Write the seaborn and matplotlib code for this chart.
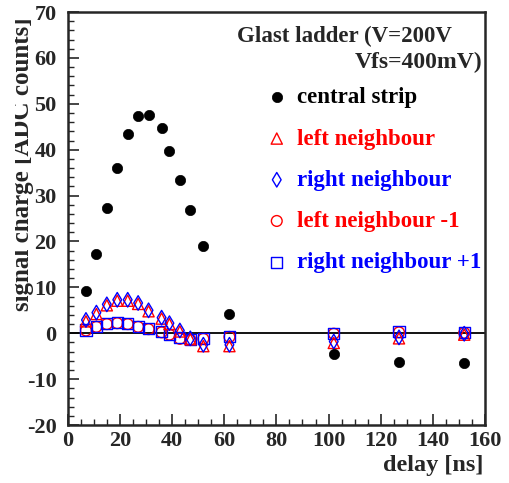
import matplotlib
matplotlib.use("Agg")
import matplotlib.pyplot as plt
import seaborn as sns
from matplotlib.ticker import MultipleLocator
from matplotlib.transforms import Bbox

delay = [7, 11, 15, 19, 23, 27, 31, 36, 39, 43, 47, 52, 62, 102, 127, 152]
central = [9.2, 17.2, 27.4, 36.0, 43.4, 47.3, 47.6, 44.8, 39.7, 33.5, 26.9, 19.1, 4.1, -4.6, -6.3, -6.5]
left_nb = [2.6, 4.2, 6.1, 7.1, 7.1, 6.4, 4.8, 3.2, 2.0, 0.4, -1.3, -2.8, -2.8, -2.1, -1.1, -0.3]
right_nb = [2.9, 4.5, 6.3, 7.3, 7.3, 6.6, 5.0, 3.4, 2.2, 0.6, -1.1, -2.5, -2.5, -1.8, -0.9, -0.1]
left_nb1 = [0.6, 1.4, 2.0, 2.2, 2.0, 1.4, 0.9, 0.2, -0.3, -1.2, -1.4, -1.2, -0.8, -0.1, 0.2, 0.1]
right_nb1 = [0.7, 1.5, 2.1, 2.3, 2.1, 1.5, 1.0, 0.3, -0.2, -1.0, -1.3, -1.1, -0.7, 0.0, 0.3, 0.1]

labels = ["central strip", "left neighbour", "right neighbour", "left neighbour -1", "right neighbour +1"]
colors = ["black", "red", "blue", "red", "blue"]

sns.set_style("ticks")
plt.rcParams["font.family"] = ["Liberation Serif", "DejaVu Serif"]
plt.rcParams["font.weight"] = "bold"
plt.rcParams["axes.unicode_minus"] = False

fig = plt.figure(figsize=(5.09, 4.83), dpi=100)
ax = fig.add_axes([0.133, 0.12, 0.820, 0.855])

ax.axhline(0, color="black", lw=1.3, zorder=1)

sns.scatterplot(x=delay, y=left_nb1, ax=ax, marker="o", s=60, facecolor="none",
                edgecolor="red", linewidth=1.0, label=labels[3], zorder=3)
sns.scatterplot(x=delay, y=right_nb1, ax=ax, marker="s", s=65, facecolor="none",
                edgecolor="blue", linewidth=1.0, label=labels[4], zorder=3)
sns.scatterplot(x=delay, y=left_nb, ax=ax, marker="^", s=65, facecolor="none",
                edgecolor="red", linewidth=1.0, label=labels[1], zorder=4)
sns.scatterplot(x=delay, y=right_nb, ax=ax, marker="d", s=55, facecolor="none",
                edgecolor="blue", linewidth=1.0, label=labels[2], zorder=4)
sns.scatterplot(x=delay, y=central, ax=ax, marker="o", s=55, color="black",
                edgecolor="black", linewidth=0.5, label=labels[0], zorder=5)

ax.set_xlim(0, 160)
ax.set_ylim(-20, 70)
ax.xaxis.set_major_locator(MultipleLocator(20))
ax.xaxis.set_minor_locator(MultipleLocator(5))
ax.yaxis.set_major_locator(MultipleLocator(10))
ax.yaxis.set_minor_locator(MultipleLocator(2))
ax.tick_params(which="both", direction="in", top=False, right=False)
ax.tick_params(which="major", length=8, width=1.2, labelsize=16)
ax.tick_params(axis="y", which="major", pad=8)
ax.tick_params(axis="x", which="major", pad=4)
ax.tick_params(which="minor", length=4, width=1.0)
for lab in ax.get_xticklabels() + ax.get_yticklabels():
    lab.set_fontweight("bold")
for sp in ax.spines.values():
    sp.set_linewidth(1.8)
    sp.set_visible(True)
ax.set_xlabel("")
ax.set_ylabel("")

handles, labs = ax.get_legend_handles_labels()
order = [labs.index(l) for l in labels]
leg = ax.legend([handles[i] for i in order], labels, loc="upper left",
                bbox_to_anchor=(0.446, 0.840), frameon=False,
                labelspacing=0.88, handletextpad=0.3, borderaxespad=0,
                handlelength=1.2, labelcolor=colors, prop={"weight": "bold", "size": 16.5})

fig.text(452 / 509, 1 - 36 / 483, "Glast ladder (V=200V", ha="right", va="center", fontsize=16.5, fontweight="bold")
fig.text(482 / 509, 1 - 62 / 483, "Vfs=400mV)", ha="right", va="center", fontsize=17, fontweight="bold")
fig.text(483 / 509, 1 - 466 / 483, "delay [ns]", ha="right", va="center", fontsize=17.5, fontweight="bold")
ylab = fig.text(34 / 509, 0.661, "signal charge [ADC counts]", rotation=90, ha="right", va="center",
                fontsize=18, fontweight="bold")
ylab.set_clip_box(Bbox.from_extents(15, 0, 509, 483))
ylab.set_clip_on(True)

fig.savefig("out.png", dpi=100)
